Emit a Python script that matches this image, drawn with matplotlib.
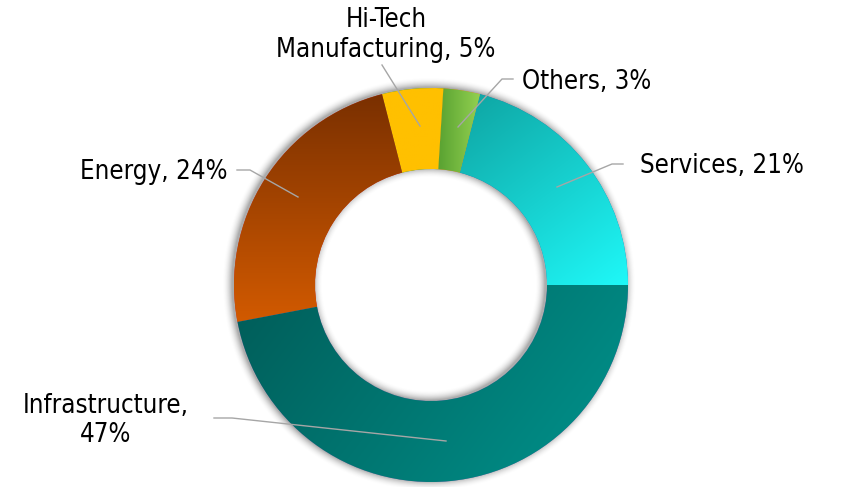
import numpy as np
import matplotlib
matplotlib.use("Agg")
import matplotlib.pyplot as plt
from matplotlib.colors import to_rgb

categories = ["Services", "Others", "Hi-Tech\nManufacturing", "Energy", "Infrastructure"]
values = [21, 3, 5, 24, 47]
labels = ["Services, 21%", "Others, 3%", "Hi-Tech\nManufacturing, 5%", "Energy, 24%", "Infrastructure,\n47%"]

# gradient colours (start, end, direction vector in screen coords)
grads = [
    ("#0fa8a6", "#1ff8f8", (0.6, -0.8)),
    ("#4f9a2c", "#92d050", (1.0, 0.0)),
    ("#ffc000", "#ffc000", (1.0, 0.0)),
    ("#7a3000", "#d25a00", (0.0, -1.0)),
    ("#005f5b", "#008a84", (0.8, -0.6)),
]

W, H = 861, 487
fig = plt.figure(figsize=(W / 100, H / 100), dpi=100)
ax = fig.add_axes([0, 0, 1, 1])
cx, cy, R, Rin = 431, 202, 197, 116

# soft shadow / glow around the ring (slightly offset)
yy, xx = np.mgrid[0:H, 0:W] + 0.5
rr = np.hypot(xx - (cx - 2), yy - (cy + 1))
d = np.where(rr > R, rr - R, np.where(rr < Rin, Rin - rr, 0))
alpha = np.clip(1 - d / 10.0, 0, 1) ** 2 * 0.5
sh = np.zeros((H, W, 4))
sh[..., :3] = 0.35
sh[..., 3] = alpha
ax.imshow(sh, extent=(0, W, 0, H), origin="lower", zorder=1, interpolation="bilinear")

wedges, _ = ax.pie(values, startangle=0, counterclock=True, radius=R, center=(cx, cy),
                   wedgeprops=dict(width=R - Rin, linewidth=0), frame=True)
for w in wedges:
    w.set_zorder(2)

x0, x1, y0, y1 = cx - R, cx + R, cy - R, cy + R
gy, gx = np.mgrid[y0:y1:200j, x0:x1:200j]
for w, (c0, c1, (dx, dy)) in zip(wedges, grads):
    c0 = np.array(to_rgb(c0)); c1 = np.array(to_rgb(c1))
    verts = w.get_path().vertices
    proj = verts[:, 0] * dx + verts[:, 1] * dy
    pmin, pmax = proj.min(), proj.max()
    t = np.clip(((gx * dx + gy * dy) - pmin) / max(pmax - pmin, 1e-6), 0, 1)
    img = c0[None, None, :] * (1 - t[..., None]) + c1[None, None, :] * t[..., None]
    im = ax.imshow(img, extent=(x0, x1, y0, y1), origin="lower", zorder=3, interpolation="bilinear")
    im.set_clip_path(w)

ax.set_xlim(0, W)
ax.set_ylim(0, H)
ax.set_aspect("equal")
ax.axis("off")

fkw = dict(family="DejaVu Sans", fontstretch="condensed", fontsize=18.5, color="#000000", zorder=6)
lc = "#a6a6a6"
leaders = [
    [(623, 323), (612, 323), (557, 300)],
    [(513, 408), (502, 408), (458, 360)],
    [(382, 422), (420, 361)],
    [(237, 317), (250, 317), (298, 290)],
    [(214, 69), (232, 69), (446, 46)],
]
for pts in leaders:
    p = np.array(pts)
    ax.plot(p[:, 0], p[:, 1], color=lc, lw=1.0, zorder=5)

ax.text(640, 321, labels[0], ha="left", va="center", **fkw)
ax.text(522, 405, labels[1], ha="left", va="center", **fkw)
ax.text(386, 452, labels[2], ha="center", va="center", linespacing=1.2, **fkw)
ax.text(227, 315, labels[3], ha="right", va="center", **fkw)
ax.text(106, 66, labels[4], ha="center", va="center", linespacing=1.15, **fkw)

fig.savefig("out.png", dpi=100)
